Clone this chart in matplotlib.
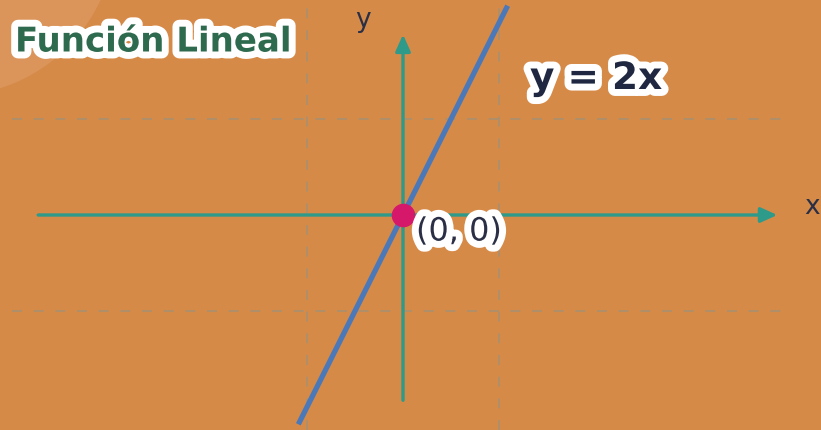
import matplotlib
matplotlib.use("Agg")
import matplotlib.pyplot as plt
import matplotlib.patheffects as pe
from matplotlib.patches import Ellipse

# ---- data ----
title = "Función Lineal"
equation = "y = 2x"
line_x = [-1.09, 1.09]
line_y = [-2.18, 2.18]
point_xy = (0, 0)
point_label = "(0, 0)"
grid_x = [-1, 1]
grid_y = [-1, 1]
axis_x_range = [-3.8, 3.9]
axis_y_range = [-1.93, 1.88]

PX = 96.0  # pixels per unit
W, H = 821, 430
ox, oy = 403, 215

fig = plt.figure(figsize=(W / 100, H / 100), dpi=100)
bg = "#D68A48"
fig.patch.set_facecolor(bg)
ax = fig.add_axes([0, 0, 1, 1])
ax.set_facecolor(bg)
ax.set_xlim(-ox / PX, (W - ox) / PX)
ax.set_ylim(-(H - oy) / PX, oy / PX)
ax.axis("off")

# decorative light circle top-left
cx, cy, r = -50, -70, 166
ax.add_patch(Ellipse(((cx - ox) / PX, (oy - cy) / PX), 2 * r / PX, 2 * r / PX,
                     facecolor="#DB955B", edgecolor="none", zorder=0))

# grid
gcol = "#A8906F"
for gx in grid_x:
    ax.plot([gx, gx], [-(H - oy) / PX, oy / PX], color=gcol, lw=1.2,
            dashes=(6, 7), zorder=1)
for gy in grid_y:
    ax.plot([(12 - ox) / PX, (790 - ox) / PX], [gy, gy], color=gcol, lw=1.2,
            dashes=(6, 7), zorder=1)

# axes with arrows
teal = "#2E9A8A"
ax.annotate("", xy=(axis_x_range[1], 0), xytext=(axis_x_range[0], 0),
            arrowprops=dict(arrowstyle="-|>,head_length=1.0,head_width=0.45",
                            color=teal, lw=2.4, shrinkA=0, shrinkB=0), zorder=2)
ax.annotate("", xy=(0, axis_y_range[1]), xytext=(0, axis_y_range[0]),
            arrowprops=dict(arrowstyle="-|>,head_length=1.0,head_width=0.45",
                            color=teal, lw=2.4, shrinkA=0, shrinkB=0), zorder=2)

# axis labels
ax.text((812 - ox) / PX, (oy - 207) / PX, "x", fontsize=19, color="#2A2F45",
        ha="center", va="center", zorder=5)
ax.text((363 - ox) / PX, (oy - 20) / PX, "y", fontsize=19, color="#2A2F45",
        ha="center", va="center", zorder=5)

# the line
ax.plot(line_x, line_y, color="#4A78B8", lw=3.8, solid_capstyle="butt", zorder=3)

# point
ax.plot([point_xy[0]], [point_xy[1]], "o", color="#D6186A", markersize=16, zorder=4)

stroke = [pe.withStroke(linewidth=10, foreground="white")]
ax.text((416 - ox) / PX, (oy - 232) / PX, point_label, fontsize=23, color="#2A2F45",
        ha="left", va="center", path_effects=stroke, zorder=6)

ax.text((530 - ox) / PX, (oy - 79) / PX, equation, fontsize=27, fontweight="bold",
        color="#1F2840", ha="left", va="center", path_effects=stroke, zorder=6)

ax.text((15 - ox) / PX, (oy - 42) / PX, title, fontsize=24.5, fontweight="bold",
        color="#2E6A4E", ha="left", va="center", path_effects=stroke, zorder=6)

fig.savefig("out.png", dpi=100, facecolor=bg)
